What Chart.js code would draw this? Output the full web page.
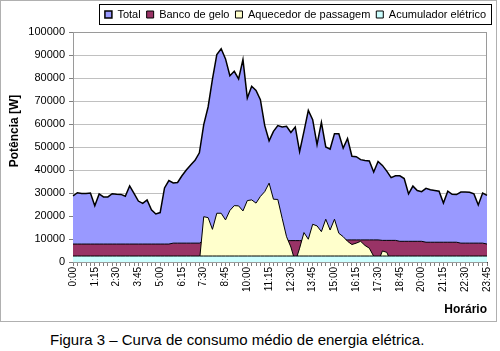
<!DOCTYPE html>
<html>
<head>
<meta charset="utf-8">
<script src="https://cdn.jsdelivr.net/npm/chart.js@4"></script>
<style>
  body { margin: 0; background: #fff; }
  #wrap { position: relative; width: 500px; height: 351px; }
  #chart { position: absolute; left: 0; top: 0; }
  #legenda {
    position: absolute; left: 50px; top: 331px; white-space: nowrap;
    font-family: 'Liberation Sans', Arial, sans-serif; font-size: 15px; line-height: 18px; color: #000;
  }
</style>
</head>
<body>
<div id="wrap">
  <canvas id="chart" width="500" height="322"></canvas>
  <div id="legenda">Figura 3 – Curva de consumo médio de energia elétrica.</div>
</div>
<script>
const horarios = [
  '0:00','0:15','0:30','0:45','1:00','1:15','1:30','1:45',
  '2:00','2:15','2:30','2:45','3:00','3:15','3:30','3:45',
  '4:00','4:15','4:30','4:45','5:00','5:15','5:30','5:45',
  '6:00','6:15','6:30','6:45','7:00','7:15','7:30','7:45',
  '8:00','8:15','8:30','8:45','9:00','9:15','9:30','9:45',
  '10:00','10:15','10:30','10:45','11:00','11:15','11:30','11:45',
  '12:00','12:15','12:30','12:45','13:00','13:15','13:30','13:45',
  '14:00','14:15','14:30','14:45','15:00','15:15','15:30','15:45',
  '16:00','16:15','16:30','16:45','17:00','17:15','17:30','17:45',
  '18:00','18:15','18:30','18:45','19:00','19:15','19:30','19:45',
  '20:00','20:15','20:30','20:45','21:00','21:15','21:30','21:45',
  '22:00','22:15','22:30','22:45','23:00','23:15','23:30','23:45'
];

const total = [
  28700, 30100, 29800, 29800, 30000, 24500, 29600, 28300, 28300, 29700,
  29500, 29400, 28600, 33100, 29800, 26500, 25500, 27000, 22700, 20900,
  21500, 32200, 35400, 34400, 34600, 37500, 40000, 42200, 44200, 47500,
  59700, 67400, 79500, 90200, 92700, 88300, 81000, 82900, 79600, 88000,
  71300, 76400, 74600, 70600, 59300, 52700, 56800, 59300, 58700, 59000,
  56300, 58700, 48000, 56800, 65900, 61900, 51000, 60700, 50000, 49100,
  55800, 55800, 49500, 53700, 46000, 45800, 44500, 44100, 43900, 39100,
  43700, 42000, 39500, 36700, 37500, 37500, 36300, 29600, 33000, 31100,
  30600, 32000, 31400, 31100, 30800, 25600, 30800, 29400, 29300, 30400,
  30400, 30300, 29600, 24800, 30000, 29000
];

const bancoGelo = [
  7800, 7800, 7800, 7800, 7800, 7800, 7800, 7800, 7800, 7800,
  7800, 7800, 7800, 7800, 7800, 7800, 7800, 7800, 7800, 7800,
  7800, 7800, 7800, 8200, 8200, 8200, 8200, 8200, 8200, 8200,
  9200, 9200, 9200, 9200, 9200, 9200, 9200, 9200, 9200, 9200,
  9200, 9200, 9200, 9200, 9200, 9200, 9200, 9200, 9300, 9300,
  9300, 9300, 9300, 9300, 9300, 9300, 9300, 9300, 9300, 9300,
  9300, 9600, 9600, 9600, 9600, 9600, 9600, 9600, 9600, 9600,
  9600, 9400, 9400, 9400, 9400, 9000, 9000, 9000, 9000, 9000,
  9000, 8600, 8600, 8600, 8600, 8600, 8600, 8600, 8600, 8200,
  8200, 8200, 8200, 8200, 8200, 7800
];

const aquecedor = [
  0, 0, 0, 0, 0, 0, 0, 0, 0, 0,
  0, 0, 0, 0, 0, 0, 0, 0, 0, 0,
  0, 0, 0, 0, 0, 0, 0, 0, 0, 0,
  19700, 19300, 14200, 21200, 21200, 18300, 22400, 24500, 24400, 22200,
  26700, 27000, 25600, 28500, 30600, 34300, 27300, 27200, 19000, 11000,
  6500, 0, 6000, 12800, 9900, 16400, 15700, 13200, 18600, 13900,
  18600, 12500, 11000, 9000, 7600, 8200, 9000, 7200, 6000, 2500,
  0, 4800, 4200, 0, 0, 0, 0, 0, 0, 0,
  0, 0, 0, 0, 0, 0, 0, 0, 0, 0,
  0, 0, 0, 0, 0, 0
];

const acumulador = [
  2600, 2600, 2600, 2600, 2600, 2600, 2600, 2600, 2600, 2600,
  2600, 2600, 2600, 2600, 2600, 2600, 2600, 2600, 2600, 2600,
  2600, 2600, 2600, 2600, 2600, 2600, 2600, 2600, 2600, 2600,
  2600, 2600, 2600, 2600, 2600, 2600, 2600, 2600, 2600, 2600,
  2600, 2600, 2600, 2600, 2600, 2600, 2600, 2600, 2600, 2600,
  2600, 2600, 2600, 2600, 2600, 2600, 2600, 2600, 2600, 2600,
  2600, 2600, 2600, 2600, 2600, 2600, 2600, 2600, 2600, 2600,
  2600, 2600, 2600, 2600, 2600, 2600, 2600, 2600, 2600, 2600,
  2600, 2600, 2600, 2600, 2600, 2600, 2600, 2600, 2600, 2600,
  2600, 2600, 2600, 2600, 2600, 2600
];

const FONTE = "'Liberation Sans', Arial, sans-serif";
Chart.defaults.font.family = FONTE;
Chart.defaults.color = '#000';

// legend a bit taller so the plot starts lower
const legendGap = {
  id: 'legendGap',
  afterInit(chart) {
    const fit = chart.legend.fit;
    chart.legend.fit = function () { fit.call(this); this.height += 2; };
  }
};

// boxes: outer frame, plot frame, legend frame, y title
const molduras = {
  id: 'molduras',
  beforeDatasetsDraw(chart) {
    const {ctx, chartArea: a} = chart;
    ctx.save();
    ctx.strokeStyle = '#9a9a9a';
    ctx.lineWidth = 1;
    ctx.strokeRect(Math.round(a.left) + 0.5, Math.round(a.top) + 0.5,
      Math.round(a.right - a.left) - 1, Math.round(a.bottom - a.top));
    ctx.restore();
  },
  afterDraw(chart) {
    const ctx = chart.ctx;
    ctx.save();
    ctx.strokeStyle = '#b0b0b0';
    ctx.lineWidth = 1;
    ctx.strokeRect(0.5, 0.5, 496, 321);

    const hb = chart.legend.legendHitBoxes;
    if (hb && hb.length) {
      const first = hb[0], last = hb[hb.length - 1];
      const x0 = Math.round(first.left) - 5.5;
      const x1 = Math.round(last.left + last.width) + 5.5;
      const y0 = Math.round(first.top) - 4.5;
      const y1 = Math.round(first.top + first.height) + 4.5;
      ctx.strokeStyle = '#000';
      ctx.strokeRect(x0, y0, x1 - x0, y1 - y0);
    }

    ctx.translate(15, 131);
    ctx.rotate(-Math.PI / 2);
    ctx.font = 'bold 12px ' + FONTE;
    ctx.fillStyle = '#000';
    ctx.textAlign = 'center';
    ctx.textBaseline = 'middle';
    ctx.fillText('Potência [W]', 0, 0);
    ctx.restore();
  }
};

new Chart(document.getElementById('chart'), {
  type: 'line',
  data: {
    labels: horarios,
    datasets: [
      { label: 'Total', data: total, order: 4,
        backgroundColor: '#9999FF', borderColor: '#000', borderWidth: 1.5, fill: 'origin' },
      { label: 'Banco de gelo', data: bancoGelo, order: 3,
        backgroundColor: '#993366', borderColor: '#000', borderWidth: 1, fill: 'origin' },
      { label: 'Aquecedor de passagem', data: aquecedor, order: 2,
        backgroundColor: '#FFFFCC', borderColor: '#000', borderWidth: 1, fill: 'origin' },
      { label: 'Acumulador elétrico', data: acumulador, order: 1,
        backgroundColor: '#CCFFFF', borderColor: '#000', borderWidth: 1, fill: 'origin' }
    ]
  },
  options: {
    responsive: false,
    animation: false,
    elements: { point: { radius: 0 }, line: { tension: 0 } },
    layout: { padding: { top: 3, right: 8, bottom: 3, left: 0 } },
    plugins: {
      legend: {
        position: 'top',
        align: 'end',
        labels: {
          boxWidth: 7,
          boxHeight: 7,
          padding: 6,
          font: { size: 11 },
          sort: (a, b) => a.datasetIndex - b.datasetIndex
        }
      },
      tooltip: { enabled: false }
    },
    scales: {
      x: {
        offset: false,
        afterFit(scale) { scale.height = 57; },
        grid: { drawOnChartArea: false, tickLength: 4, color: '#808080' },
        border: { color: '#404040' },
        ticks: {
          autoSkip: false,
          maxRotation: 90,
          minRotation: 90,
          padding: 1,
          font: { size: 10 },
          callback: function (val, index) {
            return index % 5 === 0 ? this.getLabelForValue(val) : '';
          }
        },
        title: {
          display: true,
          text: 'Horário',
          align: 'end',
          font: { size: 12, weight: 'bold' },
          padding: { top: 0, bottom: 2 }
        }
      },
      y: {
        min: 0,
        max: 100000,
        afterFit(scale) { scale.width = 73; },
        grid: { color: '#c0c0c0', tickLength: 4, tickColor: '#808080' },
        border: { color: '#808080' },
        ticks: {
          stepSize: 10000,
          padding: 4,
          font: { size: 11 },
          callback: v => String(v)
        }
      }
    }
  },
  plugins: [legendGap, molduras]
});
</script>
</body>
</html>
